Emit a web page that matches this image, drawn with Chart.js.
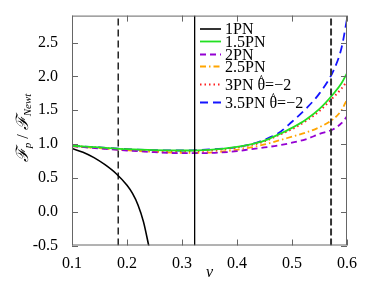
<!doctype html>
<html lang="en">
<head>
<meta charset="utf-8"/>
<title>Flux ratio</title>
<script src="https://cdn.jsdelivr.net/npm/chart.js"></script>
<style>
*{box-sizing:border-box} html,body{margin:0;padding:0;background:#fff}
canvas{display:block}
</style>
</head>
<body>
<canvas id="c" width="374" height="289"></canvas>
<script>
// tick labels
const xTicks = [0.1, 0.2, 0.3, 0.4, 0.5, 0.6];
const yTicks = [-0.5, 0, 0.5, 1.0, 1.5, 2.0, 2.5];

// vertical reference lines (v)
const vDashL = 0.184, vSolid = 0.323, vDashR = 0.571;

// 1PN
const v1 = [0.10, 0.12, 0.14, 0.16, 0.18, 0.20, 0.21, 0.22, 0.23, 0.24];
const f1 = [0.935, 0.88, 0.80, 0.695, 0.565, 0.39, 0.27, 0.10, -0.15, -0.52];

// higher orders share one grid of v
const vHi   = [0.10, 0.15, 0.20, 0.25, 0.30, 0.35, 0.40, 0.425, 0.45, 0.475, 0.50, 0.525, 0.55, 0.575, 0.59, 0.60];
const f15   = [0.975, 0.95, 0.925, 0.91, 0.905, 0.915, 0.96, 0.995, 1.05, 1.14, 1.24, 1.36, 1.52, 1.74, 1.90, 2.05];
const f2    = [0.97, 0.935, 0.905, 0.88, 0.865, 0.868, 0.895, 0.925, 0.95, 0.98, 1.02, 1.07, 1.15, 1.22, 1.31, 1.41];
const f25   = [0.97, 0.94, 0.91, 0.885, 0.87, 0.875, 0.915, 0.95, 0.995, 1.05, 1.11, 1.17, 1.25, 1.37, 1.50, 1.66];
const f3    = [0.97, 0.945, 0.92, 0.90, 0.895, 0.905, 0.95, 0.985, 1.04, 1.13, 1.22, 1.34, 1.49, 1.69, 1.82, 1.93];
const f35   = [0.975, 0.95, 0.925, 0.91, 0.905, 0.92, 0.955, 0.995, 1.065, 1.16, 1.33, 1.52, 1.75, 2.08, 2.42, 2.85];

// legend text: [before θ, after θ]
const labels = [['1PN'], ['1.5PN'], ['2PN'], ['2.5PN'], ['3PN ', '=\u22122'], ['3.5PN ', '=\u22122']];

const pts = (xs, ys) => xs.map((x, i) => ({ x, y: ys[i] }));
const vline = v => [{ x: v, y: -0.5 }, { x: v, y: 2.9 }];

const SERIF = '"Liberation Serif", "DejaVu Serif", serif';
Chart.defaults.font.family = SERIF;

function curve(label, data, color, dash, width){
  return { label: label.join('θ'), parts: label, data, borderColor: color, borderDash: dash, borderWidth: width,
    showLine: true, pointRadius: 0, fill: false, cubicInterpolationMode: 'monotone' };
}

const series = [
  curve(labels[0], pts(v1, f1), '#000000', [], 1.6),
  curve(labels[1], pts(vHi, f15), '#22e022', [], 1.8),
  curve(labels[2], pts(vHi, f2), '#9400d3', [6, 4], 1.8),
  curve(labels[3], pts(vHi, f25), '#ffa500', [6, 3, 1.5, 3], 1.8),
  curve(labels[4], pts(vHi, f3), '#ff2020', [1.5, 3], 2),
  curve(labels[5], pts(vHi, f35), '#1515ff', [8, 5], 1.8)
];

const refLines = [
  { data: vline(vDashL), borderColor: '#000', borderDash: [7, 4], borderWidth: 1.3, showLine: true, pointRadius: 0 },
  { data: vline(vSolid), borderColor: '#000', borderDash: [], borderWidth: 1.3, showLine: true, pointRadius: 0 },
  { data: vline(vDashR), borderColor: '#333', borderDash: [7, 3], borderWidth: 2, showLine: true, pointRadius: 0 }
];

const framePlugin = {
  id: 'frame',
  afterDraw(chart){
    const { ctx, chartArea: a, scales: { x, y } } = chart;
    ctx.save();
    ctx.strokeStyle = '#666';
    ctx.lineWidth = 1;
    ctx.strokeRect(a.left + 0.5, a.top + 0.5, a.right - a.left - 1, a.bottom - a.top - 1);
    ctx.beginPath();
    xTicks.forEach(v => {
      const px = Math.round(x.getPixelForValue(v)) + 0.5;
      ctx.moveTo(px, a.bottom); ctx.lineTo(px, a.bottom - 6);
      ctx.moveTo(px, a.top); ctx.lineTo(px, a.top + 6);
    });
    yTicks.forEach(v => {
      const py = Math.round(y.getPixelForValue(v)) + 0.5;
      ctx.moveTo(a.left, py); ctx.lineTo(a.left + 6, py);
      ctx.moveTo(a.right, py); ctx.lineTo(a.right - 6, py);
    });
    ctx.stroke();

    // legend
    const rows = [29, 41.5, 54.5, 66.5, 84.5, 102.5];
    ctx.textBaseline = 'alphabetic';
    series.forEach((d, i) => {
      ctx.beginPath();
      ctx.strokeStyle = d.borderColor;
      ctx.lineWidth = d.borderWidth;
      ctx.setLineDash(d.borderDash);
      ctx.moveTo(200, rows[i]); ctx.lineTo(221, rows[i]);
      ctx.stroke();
      ctx.setLineDash([]);
      ctx.fillStyle = '#000';
      ctx.textAlign = 'left';
      ctx.font = '16px ' + SERIF;
      const base = rows[i] + 5;
      let tx = 225;
      ctx.fillText(d.parts[0], tx, base);
      if (d.parts.length > 1){
        tx += ctx.measureText(d.parts[0]).width;
        const tw = ctx.measureText('θ').width;
        ctx.fillText('θ', tx, base);
        ctx.fillText(d.parts[1], tx + tw, base);
        ctx.font = '12px ' + SERIF;
        ctx.textAlign = 'center';
        ctx.fillText('^', tx + tw / 2, base - 7);
      }
    });

    // axis titles
    ctx.fillStyle = '#000';
    ctx.font = 'italic 16px ' + SERIF;
    ctx.textAlign = 'center';
    ctx.textBaseline = 'middle';
    ctx.fillText('v', (a.left + a.right) / 2, 273);

    const parts = [
      { t: 'ℱ', f: 'italic 17px ' + SERIF, dy: 0 },
      { t: 'p', f: 'italic 11px ' + SERIF, dy: 4 },
      { t: ' / ', f: '16px ' + SERIF, dy: 0 },
      { t: 'ℱ', f: 'italic 17px ' + SERIF, dy: 0 },
      { t: 'Newt', f: 'italic 11px ' + SERIF, dy: 4 }
    ];
    let total = 0;
    parts.forEach(p => { ctx.font = p.f; p.w = ctx.measureText(p.t).width; total += p.w; });
    ctx.translate(24, 128);
    ctx.rotate(-Math.PI / 2);
    ctx.textAlign = 'left';
    let cx = -total / 2;
    parts.forEach(p => { ctx.font = p.f; ctx.fillText(p.t, cx, p.dy); cx += p.w; });
    ctx.restore();
  }
};

new Chart(document.getElementById('c'), {
  type: 'scatter',
  data: { datasets: [...refLines, ...series] },
  options: {
    responsive: false,
    animation: false,
    devicePixelRatio: 1,
    layout: { padding: { top: 14, right: 27, left: 0, bottom: 0 } },
    plugins: { legend: { display: false }, tooltip: { enabled: false } },
    scales: {
      x: {
        type: 'linear', min: 0.1, max: 0.6,
        afterBuildTicks: s => { s.ticks = xTicks.map(value => ({ value })); },
        afterFit: s => { s.height = 43.5; },
        grid: { display: false },
        border: { display: false },
        ticks: { color: '#000', padding: 1, maxRotation: 0, autoSkip: false,
          font: { family: SERIF, size: 16 }, callback: v => v.toFixed(1) }
      },
      y: {
        type: 'linear', min: -0.5, max: 2.9,
        afterBuildTicks: s => { s.ticks = yTicks.map(value => ({ value })); },
        afterFit: s => { s.width = 72; },
        grid: { display: false },
        border: { display: false },
        ticks: { color: '#000', padding: 6, autoSkip: false,
          font: { family: SERIF, size: 16 }, callback: v => v.toFixed(1) }
      }
    }
  },
  plugins: [framePlugin]
});
</script>
</body>
</html>
